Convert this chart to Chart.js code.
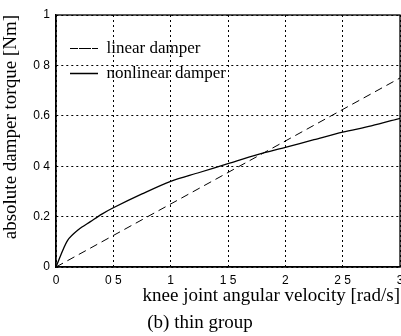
<!DOCTYPE html>
<html>
<head>
<meta charset="utf-8">
<script src="https://cdn.jsdelivr.net/npm/chart.js@4"></script>
<style>
html,body{margin:0;padding:0;background:#fff;}
#wrap{width:401px;height:336px;}
</style>
</head>
<body>
<div id="wrap"><canvas id="c" width="401" height="336"></canvas></div>
<script>
const linearX = [0, 3];
const linearY = [0, 0.75];
const nonlinearX = [0, 0.1, 0.2, 0.3, 0.4, 0.5, 0.75, 1, 1.25, 1.5, 1.75, 2, 2.25, 2.5, 2.75, 3];
const nonlinearY = [0, 0.105, 0.15, 0.18, 0.21, 0.235, 0.29, 0.34, 0.375, 0.41, 0.445, 0.475, 0.505, 0.535, 0.56, 0.59];
const xTickValues = [0, 0.5, 1, 1.5, 2, 2.5, 3];
const xTickLabels = ['0', '0 5', '1', '1 5', '2', '2 5', '3'];
const yTickValues = [0, 0.2, 0.4, 0.6, 0.8, 1];
const yTickLabels = ['0', '0.2', '0 4', '0.6', '0 8', '1'];
const seriesNames = ['linear damper', 'nonlinear damper'];
const xTitle = 'knee joint angular velocity [rad/s]';
const yTitle = 'absolute damper torque [Nm]';
const caption = '(b) thin group';

const toPts = (xs, ys) => xs.map((x, i) => ({x: x, y: ys[i]}));

const frame = {
  id: 'frame',
  afterLayout(chart) {
    const lg = chart.legend;
    if (lg) { lg.left += 6; lg.right += 6; lg.top += 32; lg.bottom += 32; }
  },
  afterDatasetsDraw(chart) {
    const a = chart.chartArea, ctx = chart.ctx;
    ctx.save();
    ctx.strokeStyle = '#000';
    ctx.lineWidth = 1.3;
    ctx.strokeRect(a.left, a.top, a.right - a.left, a.bottom - a.top);
    ctx.restore();
  }
};

new Chart(document.getElementById('c'), {
  type: 'line',
  data: {
    datasets: [
      {
        label: seriesNames[0],
        data: toPts(linearX, linearY),
        borderColor: '#000',
        backgroundColor: 'rgba(0,0,0,0)',
        borderWidth: 1,
        borderDash: [8, 5],
        pointRadius: 0,
        fill: false,
        tension: 0
      },
      {
        label: seriesNames[1],
        data: toPts(nonlinearX, nonlinearY),
        borderColor: '#000',
        backgroundColor: 'rgba(0,0,0,0)',
        borderWidth: 1.3,
        pointRadius: 0,
        fill: false,
        tension: 0.3
      }
    ]
  },
  options: {
    responsive: false,
    animation: false,
    devicePixelRatio: 1,
    layout: { padding: { left: 0, right: 1, top: 15, bottom: 0 } },
    plugins: {
      legend: {
        position: 'chartArea',
        align: 'start',
        labels: {
          boxWidth: 28,
          boxHeight: 0,
          padding: 8,
          color: '#000',
          font: { family: 'Liberation Serif', size: 17 }
        }
      },
      title: {
        display: true,
        position: 'bottom',
        text: caption,
        color: '#000',
        font: { family: 'Liberation Serif', size: 19, weight: 'normal' },
        padding: { top: 4, bottom: 2 }
      },
      tooltip: { enabled: false }
    },
    scales: {
      x: {
        type: 'linear',
        min: 0, max: 3,
        afterFit(s) { s.paddingLeft = 0; s.paddingRight = 0; s.height = 40.2; },
        afterBuildTicks(s) { s.ticks = xTickValues.map(v => ({value: v})); },
        ticks: {
          padding: 6,
          color: '#000',
          maxRotation: 0,
          font: { family: 'Liberation Sans', size: 12 },
          callback: (v) => { const i = xTickValues.indexOf(v); return i >= 0 ? xTickLabels[i] : ''; }
        },
        grid: { color: '#000', lineWidth: 1, drawTicks: false },
        border: { display: true, color: '#000', width: 1.3, dash: [2, 3] },
        title: {
          display: true,
          text: xTitle,
          align: 'end',
          color: '#000',
          font: { family: 'Liberation Serif', size: 19 },
          padding: { top: 0, bottom: 0 }
        }
      },
      y: {
        type: 'linear',
        min: 0, max: 1,
        afterFit(s) { s.width = 56; s.paddingTop = 0; s.paddingBottom = 0; },
        afterBuildTicks(s) { s.ticks = yTickValues.map(v => ({value: v})); },
        ticks: {
          padding: 6,
          color: '#000',
          font: { family: 'Liberation Sans', size: 12 },
          callback: (v) => { const i = yTickValues.indexOf(v); return i >= 0 ? yTickLabels[i] : ''; }
        },
        grid: { color: '#000', lineWidth: 1, drawTicks: false },
        border: { display: true, color: '#000', width: 1.3, dash: [2, 3] },
        title: {
          display: true,
          text: yTitle,
          align: 'end',
          color: '#000',
          font: { family: 'Liberation Serif', size: 19 },
          padding: { top: 0, bottom: 0 }
        }
      }
    }
  },
  plugins: [frame]
});
</script>
</body>
</html>
